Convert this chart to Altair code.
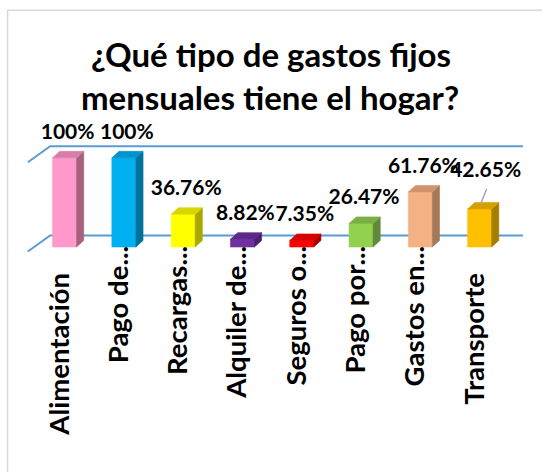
import altair as alt
import pandas as pd

# ---- data ----
categories = ["Alimentación", "Pago de...", "Recargas...", "Alquiler de...",
              "Seguros o...", "Pago por...", "Gastos en...", "Transporte"]
values = [1.0, 1.0, 0.3676, 0.0882, 0.0735, 0.2647, 0.6176, 0.4265]
value_labels = ["100%", "100%", "36.76%", "8.82%", "7.35%", "26.47%", "61.76%", "42.65%"]
front_colors = ["#FF99CC", "#00B0F0", "#FFFF00", "#7030A0", "#FF0000", "#92D050", "#F4B183", "#FFC000"]
top_colors = ["#D67DAA", "#0094CA", "#D6D600", "#5E288A", "#D60000", "#7AB043", "#CF946E", "#D6A100"]
side_colors = ["#A6617F", "#00739C", "#A8A800", "#4A1F6E", "#A80000", "#61893A", "#A67858", "#A87E00"]
grid_values = [0.0, 1.0]
title_lines = ["¿Qué tipo de gastos fijos", "mensuales tiene el hogar?"]

# ---- 3D styling constants (data units) ----
HALF = 0.2025           # half width of the front face
DX, DY = 0.121, 0.073   # bar depth
WALL_FRONT_X, WALL_BACK_X, WALL_END_X = -0.62, -0.243, 7.73
WALL_FRONT_DY, WALL_BACK_DY = -0.05, 0.13

bars = pd.DataFrame({"idx": list(range(len(categories))), "category": categories,
                     "value": values, "label": value_labels})

rows = []
for i, v in enumerate(values):
    f, t, s = front_colors[i], top_colors[i], side_colors[i]
    rows += [dict(g=f"{i}f", x=i - HALF, y=v, y2=0, fill=f),
             dict(g=f"{i}f", x=i + HALF, y=v, y2=0, fill=f)]
    rows += [dict(g=f"{i}s", x=i + HALF, y=v, y2=0, fill=s),
             dict(g=f"{i}s", x=i + HALF + DX, y=v + DY, y2=DY, fill=s)]
    rows += [dict(g=f"{i}t", x=i - HALF, y=v, y2=v, fill=t),
             dict(g=f"{i}t", x=i - HALF + DX, y=v + DY, y2=v, fill=t),
             dict(g=f"{i}t", x=i + HALF, y=v + DY, y2=v, fill=t),
             dict(g=f"{i}t", x=i + HALF + DX, y=v + DY, y2=v + DY, fill=t)]
faces = pd.DataFrame(rows)

wall_rows = []
for k, gv in enumerate(grid_values):
    wall_rows += [dict(line=k, x=WALL_FRONT_X, y=gv + WALL_FRONT_DY),
                  dict(line=k, x=WALL_BACK_X, y=gv + WALL_BACK_DY),
                  dict(line=k, x=WALL_END_X, y=gv + WALL_BACK_DY)]
walls = pd.DataFrame(wall_rows)

titles = pd.DataFrame({"line": [0, 1], "text": title_lines})

FONT = "Lato"
xscale = alt.Scale(domain=[-0.6, 7.9], nice=False, zero=False)
yscale = alt.Scale(domain=[0, 1.2], nice=False, zero=False)

border = alt.Chart(pd.DataFrame({"a": [0]})).mark_rect(
    fill="white", stroke="#D9D9D9", strokeWidth=1.5
).encode(x=alt.value(-21.4), x2=alt.value(700), y=alt.value(-129.7), y2=alt.value(700))

wall = alt.Chart(walls).mark_line(color="#5B9BD5", strokeWidth=2).encode(
    x=alt.X("x:Q", scale=xscale, axis=None),
    y=alt.Y("y:Q", scale=yscale, axis=None),
    detail="line:N", order="x:Q",
)

face = alt.Chart(faces).mark_area(strokeWidth=0.6, opacity=1).encode(
    x=alt.X("x:Q", scale=xscale),
    y=alt.Y("y:Q", scale=yscale),
    y2="y2:Q",
    color=alt.Color("fill:N", scale=None),
    stroke=alt.Stroke("fill:N", scale=None),
    detail="g:N",
)

text_common = dict(font=FONT, fontSize=21, fontWeight="bold", color="black",
                   baseline="alphabetic", align="center")
labels = alt.Chart(bars).transform_filter(alt.datum.category != "Transporte").mark_text(
    dx=3, dy=-19, **text_common
).encode(x=alt.X("idx:Q", scale=xscale), y=alt.Y("value:Q", scale=yscale), text="label:N")

labels_lifted = alt.Chart(bars).transform_filter(alt.datum.category == "Transporte").mark_text(
    dx=6, dy=-32, **text_common
).encode(x=alt.X("idx:Q", scale=xscale), y=alt.Y("value:Q", scale=yscale), text="label:N")

leader = alt.Chart(bars).transform_filter(alt.datum.category == "Transporte").mark_rule(
    color="#A6A6A6", strokeWidth=1.5, xOffset=7, x2Offset=1, yOffset=-20, y2Offset=-5
).encode(x=alt.X("idx:Q", scale=xscale), x2="idx:Q",
         y=alt.Y("value:Q", scale=yscale), y2="value:Q")

cat_common = dict(font=FONT, fontSize=27.5, fontWeight="bold", color="black",
                  angle=270, align="right", baseline="middle", xOffset=-4)
cat_short = alt.Chart(bars).transform_filter("indexof(datum.category, '...') >= 0").mark_text(
    **cat_common
).encode(x=alt.X("idx:Q", scale=xscale), y=alt.value(106), text="category:N")
cat_full = alt.Chart(bars).transform_filter("indexof(datum.category, '...') < 0").mark_text(
    **cat_common
).encode(x=alt.X("idx:Q", scale=xscale), y=alt.value(133), text="category:N")

title_common = dict(font=FONT, fontSize=33, fontWeight="bold", color="black",
                    align="center", baseline="alphabetic")
title1 = alt.Chart(titles).transform_filter("datum.line == 0").mark_text(**title_common).encode(
    x=alt.value(242), y=alt.value(-73), text="text:N")
title2 = alt.Chart(titles).transform_filter("datum.line == 1").mark_text(**title_common).encode(
    x=alt.value(241), y=alt.value(-30), text="text:N")

chart = alt.layer(border, wall, face, labels, labels_lifted, leader,
                  cat_short, cat_full, title1, title2).properties(
    width=504, height=107,
    autosize=alt.AutoSizeParams(type="none"),
    padding={"left": 29, "top": 140, "right": 9, "bottom": 225},
).configure_view(stroke=None).configure(background="white")

chart.save("out.html", embed_options={"renderer": "svg", "actions": False})
